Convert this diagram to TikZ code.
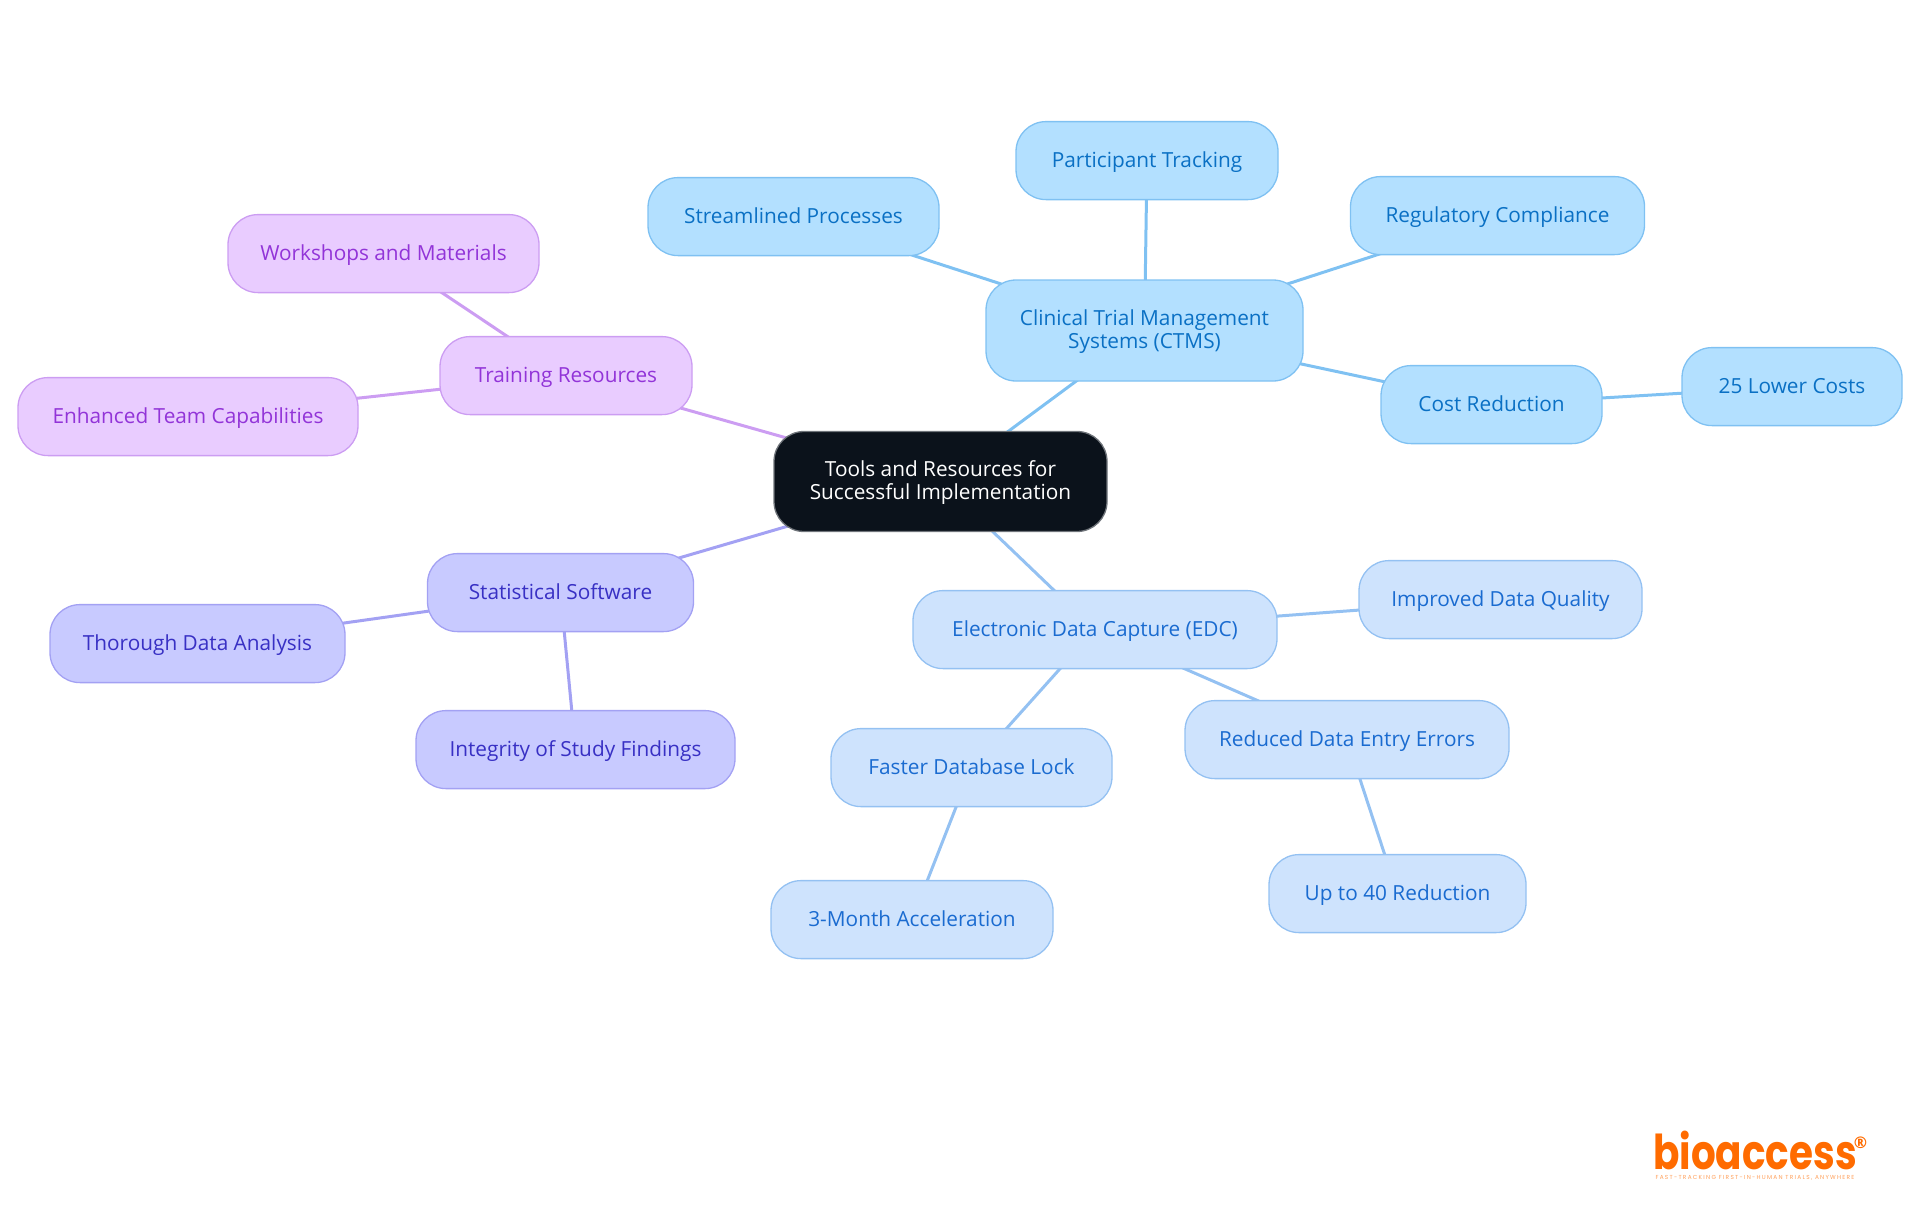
\documentclass[tikz,border=0pt]{standalone}
\usepackage{fontspec}
\setmainfont{Open Sans}
\newfontfamily\logofont[FakeStretch=0.81]{Poppins}
\newfontfamily\tagfont[LetterSpace=22]{Poppins}
\usetikzlibrary{backgrounds}
\definecolor{rootfill}{HTML}{0B121B}
\definecolor{rootline}{HTML}{6F747A}
\definecolor{ctmsfill}{HTML}{B3E0FF}
\definecolor{ctmsline}{HTML}{7FC1F2}
\definecolor{ctmstext}{HTML}{0A70C4}
\definecolor{edcfill}{HTML}{CEE3FD}
\definecolor{edcline}{HTML}{94C1F2}
\definecolor{edctext}{HTML}{1A6BD0}
\definecolor{statfill}{HTML}{C8CAFF}
\definecolor{statline}{HTML}{A3A1F3}
\definecolor{stattext}{HTML}{3830C4}
\definecolor{trainfill}{HTML}{E9CCFF}
\definecolor{trainline}{HTML}{CC9DF2}
\definecolor{traintext}{HTML}{9234D8}
\definecolor{logoorange}{HTML}{FF6B00}
\tikzset{
  x=0.5pt,y=-0.5pt,
  mm/.style={rounded corners=15pt,align=center,inner sep=0pt,line width=0.65pt,
    minimum height=39pt,text height=8.1pt,text depth=1.3pt,
    font=\fontsize{10.4pt}{11.8pt}\selectfont},
  twoline/.style={text height=21pt,text depth=2.6pt,minimum height=50pt},
  rootn/.style={mm,twoline,draw=rootline,fill=rootfill,text=white},
  ctmsn/.style={mm,draw=ctmsline,fill=ctmsfill,text=ctmstext},
  edcn/.style={mm,draw=edcline,fill=edcfill,text=edctext},
  statn/.style={mm,draw=statline,fill=statfill,text=stattext},
  trainn/.style={mm,draw=trainline,fill=trainfill,text=traintext},
  ctmsl/.style={draw=ctmsline,line width=1.5pt},
  edcl/.style={draw=edcline,line width=1.5pt},
  statl/.style={draw=statline,line width=1.5pt},
  trainl/.style={draw=trainline,line width=1.5pt},
}
\begin{document}
\begin{tikzpicture}
\useasboundingbox (0,0) rectangle (1920,1215);
\node[rootn,minimum width=166.5pt] (root) at (940.5,481.5) {Tools and Resources for\\Successful Implementation};
\node[ctmsn,twoline,minimum width=158.5pt,minimum height=50.5pt] (ctms) at (1144.5,330.5) {Clinical Trial Management\\Systems (CTMS)};
\node[ctmsn,minimum width=145.5pt] (stream) at (793.5,216.6) {Streamlined Processes};
\node[ctmsn,minimum width=131pt] (part) at (1147,160.6) {Participant Tracking};
\node[ctmsn,minimum width=147pt] (reg) at (1497.5,215.6) {Regulatory Compliance};
\node[ctmsn,minimum width=110.5pt] (cost) at (1491.5,404.6) {Cost Reduction};
\node[ctmsn,minimum width=110pt] (lower) at (1792,386.6) {25 Lower Costs};
\node[edcn,minimum width=182pt] (edc) at (1095,629.6) {Electronic Data Capture (EDC)};
\node[edcn,minimum width=141.5pt] (qual) at (1500.5,599.6) {Improved Data Quality};
\node[edcn,minimum width=162pt] (red) at (1347,739.6) {Reduced Data Entry Errors};
\node[edcn,minimum width=140.5pt] (lock) at (971.5,767.6) {Faster Database Lock};
\node[edcn,minimum width=141pt] (acc) at (912,919.6) {3-Month Acceleration};
\node[edcn,minimum width=128.5pt] (up) at (1397.5,893.6) {Up to 40 Reduction};
\node[statn,minimum width=133pt] (stat) at (560.5,592.6) {Statistical Software};
\node[statn,minimum width=147.5pt] (thor) at (197.5,643.6) {Thorough Data Analysis};
\node[statn,minimum width=159.5pt] (integ) at (575.5,749.6) {Integrity of Study Findings};
\node[trainn,minimum width=126pt] (train) at (566,375.6) {Training Resources};
\node[trainn,minimum width=155.5pt] (work) at (383.5,253.6) {Workshops and Materials};
\node[trainn,minimum width=170pt] (enh) at (188,416.6) {Enhanced Team Capabilities};
\begin{pgfonlayer}{background}
\draw[ctmsl] (root.center) -- (ctms.center);
\draw[ctmsl] (ctms.center) -- (stream.center);
\draw[ctmsl] (ctms.center) -- (part.center);
\draw[ctmsl] (ctms.center) -- (reg.center);
\draw[ctmsl] (ctms.center) -- (cost.center);
\draw[ctmsl] (cost.center) -- (lower.center);
\draw[edcl] (root.center) -- (edc.center);
\draw[edcl] (edc.center) -- (qual.center);
\draw[edcl] (edc.center) -- (red.center);
\draw[edcl] (edc.center) -- (lock.center);
\draw[edcl] (lock.center) -- (acc.center);
\draw[edcl] (red.center) -- (up.center);
\draw[statl] (root.center) -- (stat.center);
\draw[statl] (stat.center) -- (thor.center);
\draw[statl] (stat.center) -- (integ.center);
\draw[trainl] (root.center) -- (train.center);
\draw[trainl] (train.center) -- (work.center);
\draw[trainl] (train.center) -- (enh.center);
\end{pgfonlayer}
\node[inner sep=0pt,text=logoorange,font=\logofont\bfseries\fontsize{24pt}{24pt}\selectfont] (logo) at (1755,1150) {bioaccess};
\node[inner sep=0pt,text=logoorange,font=\bfseries\fontsize{8pt}{8pt}\selectfont] (regmark) at (1860.5,1142.5) {®};
\node[inner sep=0pt,text=logoorange!65,font=\tagfont\fontsize{2.9pt}{3.5pt}\selectfont] (tag) at (1755,1178) {FAST-TRACKING FIRST-IN-HUMAN TRIALS, ANYWHERE};
\end{tikzpicture}
\end{document}
